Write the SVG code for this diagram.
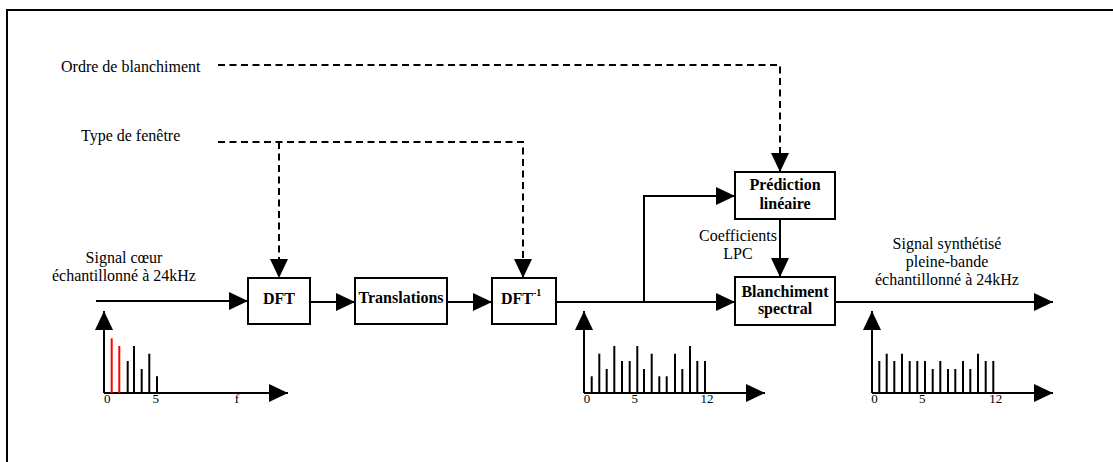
<svg xmlns="http://www.w3.org/2000/svg" width="1113" height="462" viewBox="0 0 1113 462">
<style>
text{font-family:"Liberation Serif","Times New Roman",serif;fill:#000}
.t{font-size:16px}
.b{font-size:16px;font-weight:bold}
.n{font-size:13px}
.m{text-anchor:middle}
.box{fill:#fff;stroke:#000;stroke-width:2}
.ln{fill:none;stroke:#000;stroke-width:2}
.dash{fill:none;stroke:#000;stroke-width:2;stroke-dasharray:7,4.5}
.bar{stroke:#000;stroke-width:2}
.red{stroke:#ff0000;stroke-width:2}
</style>
<defs>
<marker id="ah" markerUnits="userSpaceOnUse" markerWidth="20" markerHeight="20" refX="19" refY="9" orient="auto">
<path d="M0,0 L19,9 L0,18 z" fill="#000"/>
</marker>
</defs>
<rect width="1113" height="462" fill="#fff"/>
<g id="frame">
<path class="ln" d="M7,462 V10 H1113"/>
</g>
<g id="labels">
<text class="t" x="61" y="72">Ordre de blanchiment</text>
<text class="t" x="81" y="141">Type de fenêtre</text>
<text class="t m" x="124" y="263">Signal cœur</text>
<text class="t m" x="124" y="281">échantillonné à 24kHz</text>
<text class="t m" x="947" y="249">Signal synthétisé</text>
<text class="t m" x="947" y="267">pleine-bande</text>
<text class="t m" x="947" y="284.5">échantillonné à 24kHz</text>
<text class="t m" x="738" y="240.5">Coefficients</text>
<text class="t m" x="738" y="258.5">LPC</text>
</g>
<g id="connectors">
<path class="ln" d="M96,301 H248" marker-end="url(#ah)"/>
<path class="ln" d="M310,302 H355" marker-end="url(#ah)"/>
<path class="ln" d="M447,302 H492" marker-end="url(#ah)"/>
<path class="ln" d="M556,302 H735" marker-end="url(#ah)"/>
<path class="ln" d="M644,302 V196 H735" marker-end="url(#ah)"/>
<path class="ln" d="M780,219 V277" marker-end="url(#ah)"/>
<path class="ln" d="M835,302 H1053" marker-end="url(#ah)"/>
<path class="dash" d="M218,65 H780 V172" marker-end="url(#ah)"/>
<path class="dash" d="M218,142 H523 V278" marker-end="url(#ah)"/>
<path class="dash" d="M279,142 V278" marker-end="url(#ah)"/>
</g>
<g id="dft">
<rect class="box" x="248" y="278" width="62" height="46"/>
<text class="b m" x="279" y="304">DFT</text>
</g>
<g id="translations">
<rect class="box" x="355" y="278" width="92" height="46"/>
<text class="b m" x="401" y="303">Translations</text>
</g>
<g id="idft">
<rect class="box" x="492" y="278" width="64" height="46"/>
<text class="b" x="501" y="304">DFT<tspan font-size="10" dy="-8">-1</tspan></text>
</g>
<g id="prediction">
<rect class="box" x="735" y="172" width="100" height="47"/>
<text class="b m" x="785" y="190">Prédiction</text>
<text class="b m" x="785" y="209">linéaire</text>
</g>
<g id="blanchiment">
<rect class="box" x="735" y="277" width="100" height="48"/>
<text class="b m" x="785" y="296.5">Blanchiment</text>
<text class="b m" x="785" y="314">spectral</text>
</g>
<g id="spectrum1">
<path class="ln" d="M104,393 V311" marker-end="url(#ah)"/>
<path class="ln" d="M104,393 H288" marker-end="url(#ah)"/>
<line class="red" x1="111.7" y1="393" x2="111.7" y2="338.3"/>
<line class="red" x1="119.3" y1="393" x2="119.3" y2="346"/>
<line class="bar" x1="127.7" y1="393" x2="127.7" y2="361"/>
<line class="bar" x1="134" y1="393" x2="134" y2="346"/>
<line class="bar" x1="141.7" y1="393" x2="141.7" y2="369"/>
<line class="bar" x1="149.3" y1="393" x2="149.3" y2="353.7"/>
<line class="bar" x1="157" y1="393" x2="157" y2="376.3"/>
<text class="n m" x="107.3" y="403">0</text>
<text class="n m" x="155.7" y="403">5</text>
<text class="n m" x="237" y="403">f</text>
</g>
<g id="spectrum2">
<path class="ln" d="M584,393 V311" marker-end="url(#ah)"/>
<path class="ln" d="M584,393 H765" marker-end="url(#ah)"/>
<g class="bar">
<line x1="591.7" y1="393" x2="591.7" y2="376.3"/>
<line x1="599.3" y1="393" x2="599.3" y2="353.7"/>
<line x1="606.7" y1="393" x2="606.7" y2="369"/>
<line x1="614.3" y1="393" x2="614.3" y2="346"/>
<line x1="622" y1="393" x2="622" y2="361"/>
<line x1="629.7" y1="393" x2="629.7" y2="361"/>
<line x1="637.3" y1="393" x2="637.3" y2="346"/>
<line x1="644" y1="393" x2="644" y2="369"/>
<line x1="651.7" y1="393" x2="651.7" y2="353.7"/>
<line x1="659.3" y1="393" x2="659.3" y2="376.3"/>
<line x1="666.7" y1="393" x2="666.7" y2="376.3"/>
<line x1="675" y1="393" x2="675" y2="353.7"/>
<line x1="682.3" y1="393" x2="682.3" y2="369"/>
<line x1="690" y1="393" x2="690" y2="346"/>
<line x1="697.3" y1="393" x2="697.3" y2="361"/>
<line x1="705" y1="393" x2="705" y2="361"/>
</g>
<text class="n m" x="587" y="403">0</text>
<text class="n m" x="634.7" y="403">5</text>
<text class="n m" x="707" y="403">12</text>
</g>
<g id="spectrum3">
<path class="ln" d="M872,393 V311" marker-end="url(#ah)"/>
<path class="ln" d="M872,393 H1053" marker-end="url(#ah)"/>
<g class="bar">
<line x1="879.3" y1="393" x2="879.3" y2="361"/>
<line x1="886.7" y1="393" x2="886.7" y2="353.7"/>
<line x1="894.3" y1="393" x2="894.3" y2="361"/>
<line x1="902" y1="393" x2="902" y2="353.7"/>
<line x1="909.7" y1="393" x2="909.7" y2="361"/>
<line x1="917.3" y1="393" x2="917.3" y2="361"/>
<line x1="925" y1="393" x2="925" y2="361"/>
<line x1="932.7" y1="393" x2="932.7" y2="369"/>
<line x1="940.3" y1="393" x2="940.3" y2="361"/>
<line x1="948" y1="393" x2="948" y2="369"/>
<line x1="955.3" y1="393" x2="955.3" y2="369"/>
<line x1="963" y1="393" x2="963" y2="361"/>
<line x1="970.3" y1="393" x2="970.3" y2="369"/>
<line x1="978" y1="393" x2="978" y2="353.7"/>
<line x1="985.7" y1="393" x2="985.7" y2="361"/>
<line x1="993.3" y1="393" x2="993.3" y2="361"/>
</g>
<text class="n m" x="874.5" y="403">0</text>
<text class="n m" x="922.3" y="403">5</text>
<text class="n m" x="995.8" y="403">12</text>
</g>
</svg>
